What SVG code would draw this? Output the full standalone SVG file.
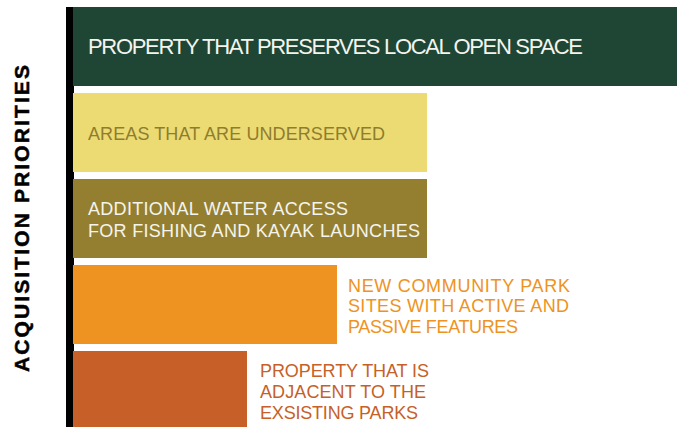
<svg xmlns="http://www.w3.org/2000/svg" width="677" height="427" viewBox="0 0 677 427">
<style>
text{font-family:"Liberation Sans","Open Sans",sans-serif;}
.t1{font-size:22px;fill:#f4f4ee;}
.t{font-size:18px;}
.w{fill:#f4f4ee;}
.lbl{font-size:21px;font-weight:bold;fill:#000;stroke:#000;stroke-width:0.5;}
</style>
<rect width="677" height="427" fill="#fff"/>
<g id="axis">
<rect x="66" y="7" width="8" height="420" fill="#000"/>
<text class="lbl" transform="translate(28.5,372) rotate(-90)" textLength="307">ACQUISITION PRIORITIES</text>
</g>
<g id="bar1">
<rect x="73" y="7" width="604" height="79" fill="#1f4634"/>
<text class="t1" x="88" y="54" textLength="495">PROPERTY THAT PRESERVES LOCAL OPEN SPACE</text>
</g>
<g id="bar2">
<rect x="73" y="93" width="354" height="79" fill="#ecdb72"/>
<text class="t" x="88" y="140" fill="#8f7d2e" textLength="297">AREAS THAT ARE UNDERSERVED</text>
</g>
<g id="bar3">
<rect x="73" y="179" width="354" height="79" fill="#947f30"/>
<text class="t w"><tspan x="88" y="215" textLength="260">ADDITIONAL WATER ACCESS</tspan><tspan x="88" y="236.7" textLength="332">FOR FISHING AND KAYAK LAUNCHES</tspan></text>
</g>
<g id="bar4">
<rect x="73" y="265" width="264" height="79" fill="#ee9322"/>
<text class="t" fill="#ee9322"><tspan x="348" y="291.7" textLength="222">NEW COMMUNITY PARK</tspan><tspan x="348" y="312.3" textLength="221">SITES WITH ACTIVE AND</tspan><tspan x="348" y="332.7" textLength="170">PASSIVE FEATURES</tspan></text>
</g>
<g id="bar5">
<rect x="73" y="351" width="174" height="76" fill="#c75f28"/>
<text class="t" fill="#c75f28"><tspan x="260" y="376.7" textLength="169">PROPERTY THAT IS</tspan><tspan x="260" y="398.3" textLength="166">ADJACENT TO THE</tspan><tspan x="260" y="419.3" textLength="158">EXSISTING PARKS</tspan></text>
</g>
</svg>
